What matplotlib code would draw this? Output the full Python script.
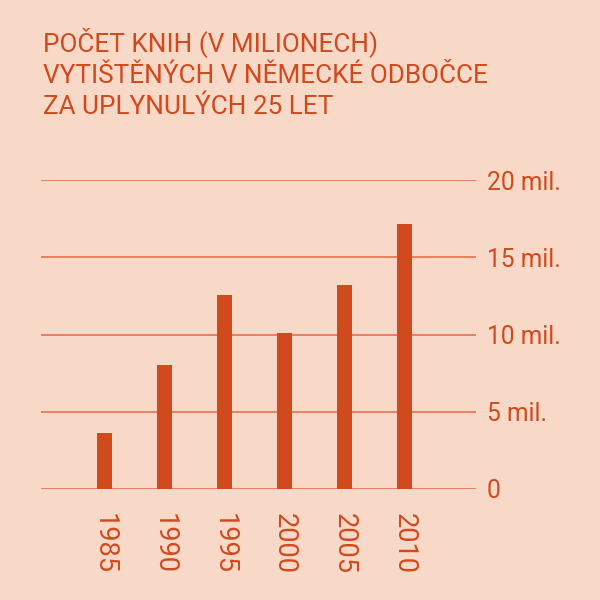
import matplotlib
matplotlib.use("Agg")
import matplotlib.pyplot as plt
import numpy as np

# data (millions of books)
years = ["1985", "1990", "1995", "2000", "2005", "2010"]
books = [3.65, 8.0, 12.55, 10.1, 13.2, 17.15]
yticks = [0, 5, 10, 15, 20]
ytick_labels = ["0", "5 mil.", "10 mil.", "15 mil.", "20 mil."]
title = "POČET KNIH (V MILIONECH)\nVYTIŠTĚNÝCH V NĚMECKÉ ODBOČCE\nZA UPLYNULÝCH 25 LET"

bg = "#F8D9C8"
red = "#D04A1E"
grid_col = "#E8704A"
font = ["Roboto", "DejaVu Sans"]


def fit_size(txt, size, width_px):
    # pick a font size so the text is about width_px wide
    t = fig.text(0, 0, txt, family=font, fontsize=size)
    w = t.get_window_extent(renderer=fig.canvas.get_renderer()).width
    t.remove()
    return size * width_px / w


fig = plt.figure(figsize=(6, 6), dpi=100, facecolor=bg)
ax = fig.add_axes([41/600, 1 - 489/600, (476 - 41)/600, (489 - 180)/600])
ax.set_facecolor(bg)

x = np.arange(len(years))
for y in yticks:
    ax.axhline(y, color=grid_col, lw=1.2, zorder=1)
ax.bar(x, books, width=0.25, color=red, zorder=2)

ax.set_xlim(-1.05, 6.2)
ax.set_ylim(0, 20)
for s in ax.spines.values():
    s.set_visible(False)

title_size = fit_size("VYTIŠTĚNÝCH V NĚMECKÉ ODBOČCE", 17, 445)
ytick_size = fit_size("20 mil.", 17, 74)
year_size = fit_size("1985", 17, 61)

ax.yaxis.tick_right()
ax.set_yticks(yticks)
ax.set_yticklabels(ytick_labels, family=font, fontsize=ytick_size, color=red)
ax.tick_params(axis="y", length=0, pad=8)

ax.set_xticks(x)
ax.set_xticklabels(years, rotation=-90, family=font,
                   fontsize=year_size, color=red, va="top", ha="center")
ax.tick_params(axis="x", length=0, pad=17)

fig.text(43/600, 1 - 27/600, title, family=font, fontsize=title_size,
         color=red, va="top", ha="left", linespacing=1.38)

fig.savefig("out.png", dpi=100, facecolor=bg)
